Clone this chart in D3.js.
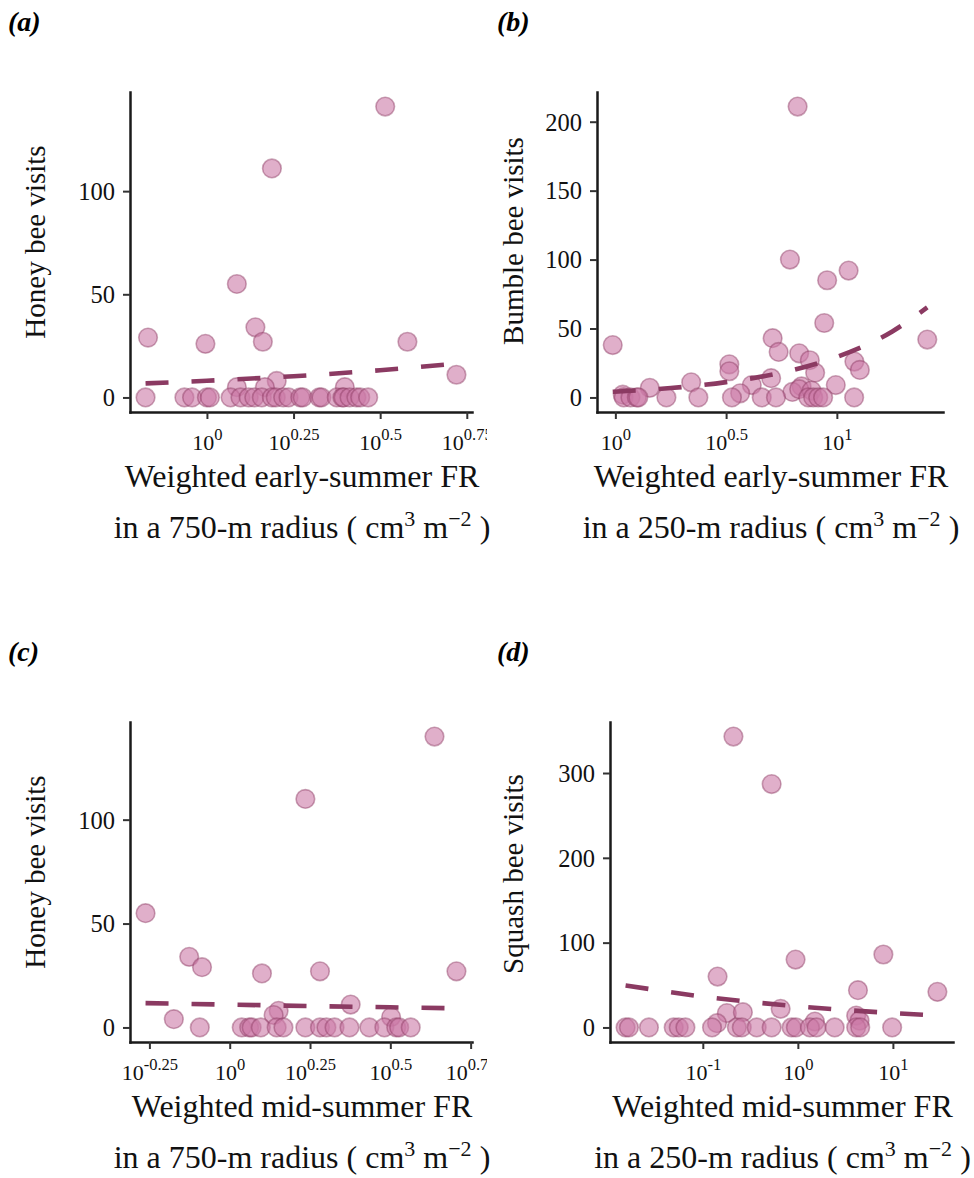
<!DOCTYPE html>
<html><head><meta charset="utf-8">
<script src="https://cdn.jsdelivr.net/npm/d3@7"></script>
<style>body{margin:0;background:#fff}svg{display:block}</style>
</head><body>
<svg id="chart" width="974" height="1178"></svg>
<script>
// ---------- DATA ----------
// (a) honey bee visits vs weighted early-summer FR, 750-m radius
const aX = [3.27,1.54,1.22,0.676,0.99,1.38,1.45,3.79,5.25,1.59,1.22,1.47,2.50,
  0.665,0.861,0.906,1.00,1.02,1.17,1.25,1.32,1.37,1.44,1.54,1.58,1.66,1.72,1.86,1.89,2.11,2.14,2.37,2.46,2.48,2.58,2.70,2.77,2.92];
const aY = [141,111,55,29,26,34,27,27,11,8,5,5,5,
  0,0,0,0,0,0,0,0,0,0,0,0,0,0,0,0,0,0,0,0,0,0,0,0,0];
const aTrendX = [0.665,1.0,1.78,3.16,5.25];
const aTrendY = [6.8,8.1,10.3,13.2,16.4];
const aTickExp = ["0","0.25","0.5","0.75"];
const aYTicks = [0,50,100];

// (b) bumble bee visits vs weighted early-summer FR, 250-m radius
const bX = [6.65,0.973,6.14,9.04,11.3,8.77,25.6,5.13,5.46,6.76,7.55,7.98,12.0,12.7,3.27,3.27,5.05,2.20,1.43,4.13,9.89,6.93,6.30,6.76,3.66,7.69,1.08,
  1.09,1.17,1.25,1.27,1.70,2.37,3.36,4.58,5.31,7.43,7.82,8.24,8.67,11.97];
const bY = [211,38,100,85,92,54,42,43,33,32,27,18,26,20,24,19,14,11,7,9,9,8,4,6,3,5,2,
  0,0,0,0,0,0,0,0,0,0,0,0,0,0];
const bTrendX = [0.973,1.78,3.16,5.62,10,17.8,25.6];
const bTrendY = [4.1,6.8,11.1,18.0,29.4,47.9,65.3];
const bTickExp = ["0","0.5","1"];
const bYTicks = [0,50,100,150,200];

// (c) honey bee visits vs weighted mid-summer FR, 750-m radius
const cX = [4.34,1.72,0.547,0.748,0.820,1.26,1.91,5.08,2.38,1.42,1.37,0.670,3.18,
  0.807,1.09,1.15,1.17,1.25,1.40,1.47,1.72,1.91,2.00,2.12,2.36,2.72,3.03,3.30,3.37,3.66];
const cY = [140,110,55,34,29,26,27,27,11,8,6,4,5,
  0,0,0,0,0,0,0,0,0,0,0,0,0,0,0,0,0];
const cTrendX = [0.547,1.0,1.78,3.16,5.08];
const cTrendY = [11.7,11.0,10.3,9.7,9.2];
const cTickExp = ["-0.25","0","0.25","0.5","0.75"];
const cYTicks = [0,50,100];

// (d) squash bee visits vs weighted mid-summer FR, 250-m radius
const dX = [0.210,0.530,0.946,7.94,0.143,4.29,29.4,0.659,0.179,0.264,0.141,1.51,4.11,4.46,
  0.0154,0.0167,0.0271,0.0494,0.0558,0.0656,0.125,0.228,0.257,0.369,0.530,0.859,0.953,1.34,1.57,2.44,4.11,4.53,9.82];
const dY = [343,287,80,86,60,44,42,22,17,18,5,7,14,8,
  0,0,0,0,0,0,0,0,0,0,0,0,0,0,0,0,0,0,0];
const dTrendX = [0.0154,0.1,1,10,29.4];
const dTrendY = [49.6,36.4,24.9,17.0,14.2];
const dTickExp = ["-1","0","1"];
const dYTicks = [0,100,200,300];

const panelLabels = ["(a)","(b)","(c)","(d)"];
const yTitles = ["Honey bee visits","Bumble bee visits","Honey bee visits","Squash bee visits"];
const xTitles1 = ["Weighted early-summer FR","Weighted early-summer FR","Weighted mid-summer FR","Weighted mid-summer FR"];
const xTitles2 = ["in a 750-m radius","in a 250-m radius","in a 750-m radius","in a 250-m radius"];

// ---------- STYLE / LAYOUT ----------
const FONT = "'Liberation Serif','Times New Roman',Times,serif";
const POINT_FILL = "#CC79A7", POINT_STROKE = "#8B3A62", LINE_COLOR = "#8B3A62", AXIS_COLOR = "#1a1a1a";
const svg = d3.select("#chart").style("font-family", FONT);

svg.append("defs").append("clipPath").attr("id","leftclip")
  .append("rect").attr("x",0).attr("y",0).attr("width",487).attr("height",1178);

const panels = [
  {xs:aX, ys:aY, tx:aTrendX, ty:aTrendY, texp:aTickExp, yt:aYTicks, box:{l:130,r:472,t:92,b:412}, lab:[8,31], ytx:45, yty:242, clip:true},
  {xs:bX, ys:bY, tx:bTrendX, ty:bTrendY, texp:bTickExp, yt:bYTicks, box:{l:597,r:943,t:92,b:412}, lab:[497,31], ytx:523, yty:241, clip:false},
  {xs:cX, ys:cY, tx:cTrendX, ty:cTrendY, texp:cTickExp, yt:cYTicks, box:{l:130,r:472,t:722,b:1042}, lab:[8,661], ytx:45, yty:872, clip:true},
  {xs:dX, ys:dY, tx:dTrendX, ty:dTrendY, texp:dTickExp, yt:dYTicks, box:{l:610,r:953,t:722,b:1042}, lab:[497,661], ytx:523, yty:874, clip:false}
];

panels.forEach((p, i) => {
  const g = svg.append("g");
  if (p.clip) g.attr("clip-path","url(#leftclip)");
  const lx = p.xs.map(Math.log10);
  const [mn, mx] = d3.extent(lx); const pad = (mx - mn) * 0.05;
  const x = d3.scaleLog().domain([10 ** (mn - pad), 10 ** (mx + pad)]).range([p.box.l, p.box.r]);
  const [ymn, ymx] = d3.extent(p.ys); const yp = (ymx - ymn) * 0.05;
  const y = d3.scaleLinear().domain([ymn - yp, ymx + yp]).range([p.box.b, p.box.t]);

  // points
  g.append("g").selectAll("circle").data(p.xs.map((v, k) => [v, p.ys[k]])).join("circle")
    .attr("cx", d => x(d[0])).attr("cy", d => y(d[1])).attr("r", 9.3)
    .attr("fill", POINT_FILL).attr("fill-opacity", 0.6)
    .attr("stroke", POINT_STROKE).attr("stroke-opacity", 0.45).attr("stroke-width", 1.6);

  // trend line
  const line = d3.line().x(d => x(d[0])).y(d => y(d[1])).curve(d3.curveMonotoneX);
  g.append("path").datum(p.tx.map((v, k) => [v, p.ty[k]])).attr("d", line)
    .attr("fill","none").attr("stroke", LINE_COLOR).attr("stroke-width", 4.6)
    .attr("stroke-dasharray","23,23");

  // x axis
  const xa = d3.axisBottom(x).tickValues(p.texp.map(e => 10 ** (+e))).tickSize(7).tickSizeOuter(0).tickFormat(() => "");
  const xg = g.append("g").attr("transform", `translate(0,${p.box.b})`).call(xa);
  xg.selectAll(".tick text").each(function(d, k) {
    const t = d3.select(this).attr("y", 38).attr("dy", null).attr("font-size", 22).attr("fill","#111");
    t.text(null);
    t.append("tspan").text("10");
    t.append("tspan").attr("dy", -10).attr("font-size", 16.5).text(p.texp[k]);
  });
  // y axis
  const ya = d3.axisLeft(y).tickValues(p.yt).tickSize(7).tickSizeOuter(0).tickPadding(8);
  const yg = g.append("g").attr("transform", `translate(${p.box.l},0)`).call(ya);
  yg.selectAll(".tick text").attr("font-size", 24.5).attr("fill","#111").attr("dy","0.34em");
  [xg, yg].forEach(a => {
    a.select(".domain").attr("stroke", AXIS_COLOR).attr("stroke-width", 2.5).attr("stroke-linecap","square");
    a.selectAll(".tick line").attr("stroke", "#333").attr("stroke-width", 2);
    a.attr("font-family", FONT);
  });

  // titles
  const cx = (p.box.l + p.box.r) / 2 + 1;
  svg.append("text").attr("x", cx).attr("y", p.box.b + 75).attr("text-anchor","middle")
    .attr("font-size", 32).attr("fill","#111").text(xTitles1[i]);
  const t2 = svg.append("text").attr("x", cx).attr("y", p.box.b + 126).attr("text-anchor","middle")
    .attr("font-size", 32).attr("fill","#111");
  t2.append("tspan").text(xTitles2[i] + " ( cm");
  t2.append("tspan").attr("dy", -12).attr("font-size", 22).text("3");
  t2.append("tspan").attr("dy", 12).text(" m");
  t2.append("tspan").attr("dy", -12).attr("font-size", 22).text("\u22122");
  t2.append("tspan").attr("dy", 12).text(" )");

  svg.append("text").attr("transform", `translate(${p.ytx},${p.yty}) rotate(-90)`)
    .attr("text-anchor","middle").attr("font-size", 29).attr("fill","#111").text(yTitles[i]);

  svg.append("text").attr("x", p.lab[0]).attr("y", p.lab[1]).attr("font-size", 28)
    .attr("font-weight","bold").attr("font-style","italic").attr("fill","#000").text(panelLabels[i]);
});
</script>
</body></html>
